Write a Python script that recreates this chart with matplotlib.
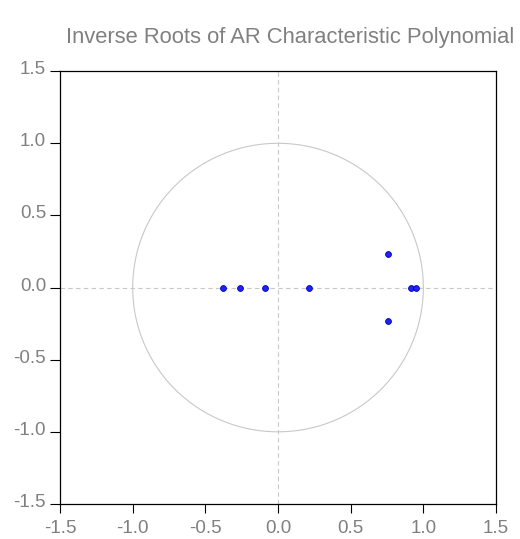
import numpy as np
import matplotlib
matplotlib.use("Agg")
import matplotlib.pyplot as plt
from matplotlib.transforms import ScaledTranslation

plt.rcParams['font.family'] = ['Liberation Sans', 'DejaVu Sans']

# inverse roots (real, imaginary)
root_re = [-0.376, -0.262, -0.087, 0.216, 0.757, 0.757, 0.913, 0.950]
root_im = [0.0, 0.0, 0.0, 0.0, 0.23, -0.23, 0.0, 0.0]
ticks = [-1.5, -1.0, -0.5, 0.0, 0.5, 1.0, 1.5]

fig = plt.figure(figsize=(5.2, 5.39), dpi=100)
ax = fig.add_axes([0.1154, 0.065, 0.8385, 0.803])

theta = np.linspace(0, 2 * np.pi, 400)
ax.plot(np.cos(theta), np.sin(theta), color='#c8c8c8', lw=0.8, zorder=1)
ax.axhline(0, color='#c8c8c8', lw=0.8, ls=(0, (4, 3)), zorder=1)
ax.axvline(0, color='#c8c8c8', lw=0.8, ls=(0, (4, 3)), zorder=1)

ax.plot(root_re, root_im, 'o', ms=4.2, mfc='#2020ff', mec='#0000b0', mew=0.6, zorder=3)

ax.set_xlim(-1.5, 1.5)
ax.set_ylim(-1.5, 1.5)
ax.set_xticks(ticks)
ax.set_yticks(ticks)
ax.set_xticklabels([f"{t:.1f}" for t in ticks])
ax.set_yticklabels([f"{t:.1f}" for t in ticks])
ax.tick_params(direction='out', width=0.8, colors='black',
               labelcolor='#808080', labelsize=13.5)
ax.tick_params(axis='x', length=6.5, pad=5)
ax.tick_params(axis='y', length=7, pad=3)
# y labels sit a little above their tick in the original
shift = ScaledTranslation(0, 3.5 / 100, fig.dpi_scale_trans)
for lab in ax.get_yticklabels():
    lab.set_transform(lab.get_transform() + shift)
for s in ax.spines.values():
    s.set_linewidth(0.9)

fig.text(0.5587, 0.93, "Inverse Roots of AR Characteristic Polynomial",
         ha='center', va='center', color='#808080', fontsize=15.8)

fig.savefig("out.png", dpi=100)
